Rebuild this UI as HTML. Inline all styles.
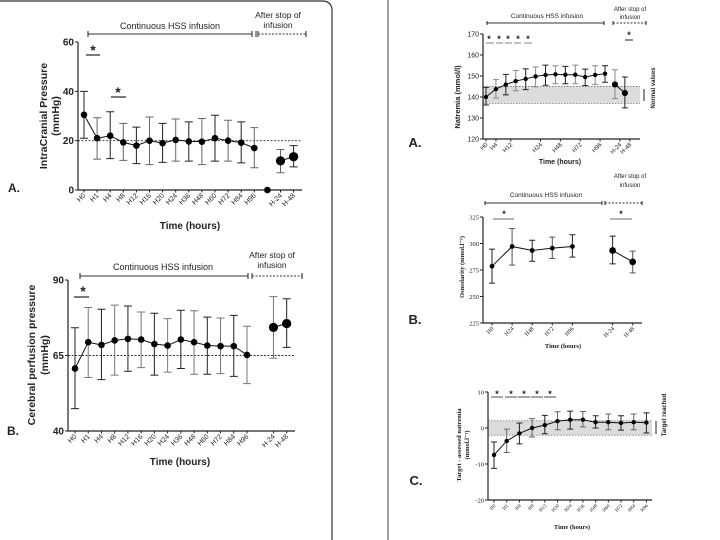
<!DOCTYPE html>
<html><head><meta charset="utf-8"><style>
html,body{margin:0;padding:0;background:#fff;}
svg{display:block;font-family:"Liberation Sans",Arial,sans-serif;}
</style></head><body>
<svg id="fig" width="720" height="540" viewBox="0 0 720 540" xmlns="http://www.w3.org/2000/svg">
<path d="M0 1 H322 Q332 1 332 11 V540" fill="none" stroke="#333" stroke-width="1.2"/>
<line x1="388" y1="0" x2="388" y2="540" stroke="#444" stroke-width="1"/>
</svg>
<script>
// ---------- ICP data ----------
const icpCats = ["H0","H1","H4","H8","H12","H16","H20","H24","H36","H48","H60","H72","H84","H96","","H-24","H-48"];
const icpMean = [30.5,21,22,19.3,18,20,19,20.3,19.7,19.6,21,20,19.2,17,0,11.8,13.5];
const icpLow  = [21,12.5,12.7,12,10.7,10.3,11.2,11.7,11.7,10.3,11.7,11.7,11,9,0,7,9.4];
const icpHigh = [40,29.3,31.7,27,25.5,29.6,27,28.8,27.6,29,30.3,28.3,27.6,25.3,0,16.4,18];
const icpTicks = [0,20,40,60];
// ---------- CPP data ----------
const cppCats = ["H0","H1","H4","H8","H12","H16","H20","H24","H36","H48","H60","H72","H84","H96","","H-24","H-48"];
const cppMean = [60.7,69.4,68.5,70,70.5,70.3,68.8,68.3,70.3,69.4,68.3,68.1,68.1,65.2,null,74.3,75.6];
const cppLow  = [47.4,57.7,57,58.5,59.8,61,58.5,59.5,60.7,58.8,58.8,59,58.1,55.7,null,64.1,67.7];
const cppHigh = [74.2,80.9,80.3,81.7,81.4,79.4,79,77.2,80,79.8,77.7,77.4,78.3,74.7,null,84.5,83.8];
const cppTicks = [40,65,90];
// ---------- Natremia data ----------
const naCats = ["H0","H4","H8","H12","H16","H20","H24","H36","H48","H60","H72","H84","H96","H-24","H-48"];
const naMean = [140,143.8,145.9,147.6,148.6,149.8,150.5,150.8,150.6,150.6,149.5,150.5,151.1,146,141.9];
const naLow  = [136.2,139.5,141,143,143.5,144.8,145.6,146.3,146.3,146.3,145.4,146,147,139.2,134.8];
const naHigh = [144.6,148.3,150.8,152.7,153.4,154.3,155.2,154.9,154.6,155.2,153.3,154.9,154.9,153,149.5];
const naLabels = ["H0","H4","H12","H24","H48","H72","H96","H-24","H-48"];
const naLabelPos = [0,1,2.5,5.5,7.5,9.5,11.5,13.5,14.5];
const naTicks = [120,130,140,150,160,170];
// ---------- Osmolarity data ----------
const osCats = ["H0","H24","H48","H72","H96","","H-24","H-48"];
const osMean = [278.6,297.2,293.4,295.6,297.2,null,293.4,282.7];
const osLow  = [262.6,279.6,283.3,285.8,287.1,null,280.8,272.3];
const osHigh = [294.7,314.2,303.1,306,308.2,null,307,292.8];
const osTicks = [225,250,275,300,325];
// ---------- Target - natremia data ----------
const tgCats = ["H0","H1","H4","H8","H12","H20","H24","H36","H48","H60","H72","H84","H96"];
const tgMean = [-7.5,-3.6,-1.5,0,0.8,1.9,2.3,2.3,1.6,1.6,1.4,1.6,1.5];
const tgLow  = [-11.2,-6.8,-4.4,-2.5,-1.6,-0.5,-0.3,0.3,0,-0.5,-0.6,-0.5,-1.4];
const tgHigh = [-3.9,-0.3,1.4,2.6,3.5,4.5,4.7,4.6,3.4,3.9,3.4,3.9,4.2];
const tgTicks = [-20,-10,0,10];

const NS="http://www.w3.org/2000/svg";
const svg=document.getElementById('fig');
function mk(tag,attrs,parent,text){const e=document.createElementNS(NS,tag);for(const k in attrs)e.setAttribute(k,attrs[k]);if(text!==undefined)e.textContent=text;(parent||svg).appendChild(e);return e;}

function panel(c){
  const g=mk('g',{});
  
  
  const xs=i=>c.x0+i*c.dx;
  const ys=v=>c.pyA+(v-c.vA)*(c.pyB-c.pyA)/(c.vB-c.vA);
  const yTop=ys(c.ticks[c.ticks.length-1]), yBot=ys(c.ticks[0]);
  if(c.band){const r=mk('rect',{x:c.ax,y:ys(c.band[1]),width:c.axEnd-c.ax,height:ys(c.band[0])-ys(c.band[1]),fill:'#dcdcdc'},g);
    
    c.band.forEach(b=>{const l=mk('line',{x1:c.ax,x2:c.axEnd,y1:ys(b),y2:ys(b),stroke:'#555','stroke-width':0.7,'stroke-dasharray':'1.5,1.5'},g);});}
  if(c.ref!==undefined){const l=mk('line',{x1:c.ax,x2:c.axEnd,y1:ys(c.ref),y2:ys(c.ref),stroke:'#333','stroke-width':0.9,'stroke-dasharray':'2,1.5'},g);}
  const ya=mk('line',{x1:c.ax,x2:c.ax,y1:yTop,y2:yBot,stroke:'#222','stroke-width':1.2},g);
  const xa=mk('line',{x1:c.ax,x2:c.axEnd,y1:yBot,y2:yBot,stroke:'#222','stroke-width':1.2},g);
  c.ticks.forEach(t=>{const y=ys(t);mk('line',{x1:c.ax-3,x2:c.ax,y1:y,y2:y,stroke:'#222'},g);
    const tx=mk('text',{x:c.ax-4,y:y+c.fs*0.35,'text-anchor':'end','font-size':c.fs,'font-weight':c.bold?'bold':'normal','font-family':c.serif?'Liberation Serif,serif':'Liberation Sans,sans-serif',fill:'#222'},g,String(t));
    });
  const labs=c.labels||c.cats, lpos=c.labelPos||c.cats.map((_,i)=>i);
  labs.forEach((l,k)=>{if(!l)return;const x=xs(lpos[k]);mk('line',{x1:x,x2:x,y1:yBot,y2:yBot+2.5,stroke:'#222'},g);
    const tx=mk('text',{x:x+2,y:yBot+6,transform:`rotate(-45 ${x+2} ${yBot+6})`,'text-anchor':'end','font-size':c.xfs,'font-family':c.serif?'Liberation Serif,serif':'Liberation Sans,sans-serif',fill:'#222'},g,l);
    });
  c.groups.forEach(gr=>{const pts=gr.filter(i=>c.mean[i]!==null).map(i=>xs(i)+','+ys(c.mean[i])).join(' ');
    const p=mk('polyline',{points:pts,fill:'none',stroke:'#111','stroke-width':1},g);});
  c.mean.forEach((m,i)=>{if(m===null)return;const x=xs(i);
    if(c.high[i]!==c.low[i]){const col=i%2?c.ec2:'#222';
      const e=mk('path',{d:`M${x} ${ys(c.low[i])}V${ys(c.high[i])}M${x-c.cap} ${ys(c.low[i])}H${x+c.cap}M${x-c.cap} ${ys(c.high[i])}H${x+c.cap}`,stroke:col,'stroke-width':1,fill:'none'},g);
      }
    const big=c.bigFrom!==undefined&&i>=c.bigFrom;
    const d=mk('circle',{cx:x,cy:ys(m),r:big?c.r*1.4:c.r,fill:'#000'},g);
    });
}

panel({name:'icp-chart',cats:icpCats,mean:icpMean,low:icpLow,high:icpHigh,ticks:icpTicks,x0:84,dx:13.1,ax:78,axEnd:302,vA:0,pyA:190,vB:60,pyB:42,ref:20,groups:[[0,1,2,3,4,5,6,7,8,9,10,11,12,13],[15,16]],fs:10,bold:true,xfs:7,cap:4,r:3.3,ec2:'#666',bigFrom:15});
panel({name:'cpp-chart',cats:cppCats,mean:cppMean,low:cppLow,high:cppHigh,ticks:cppTicks,x0:75,dx:13.23,ax:68,axEnd:295,vA:40,pyA:431,vB:90,pyB:280,ref:65,groups:[[0,1,2,3,4,5,6,7,8,9,10,11,12,13],[15,16]],fs:10,bold:true,xfs:7,cap:4,r:3.3,ec2:'#777',bigFrom:15});
panel({name:'natremia-chart',cats:naCats,mean:naMean,low:naLow,high:naHigh,labels:naLabels,labelPos:naLabelPos,ticks:naTicks,x0:486,dx:9.92,ax:483,axEnd:640,vA:120,pyA:139,vB:170,pyB:34,band:[137,145],groups:[[0,1,2,3,4,5,6,7,8,9,10,11,12],[13,14]],fs:7,xfs:6,cap:3,r:2.2,ec2:'#888',bigFrom:13});
panel({name:'osmolarity-chart',cats:osCats,mean:osMean,low:osLow,high:osHigh,ticks:osTicks,x0:492,dx:20.1,ax:483,axEnd:642,vA:225,pyA:323,vB:325,pyB:217,groups:[[0,1,2,3,4],[6,7]],fs:6.5,serif:true,xfs:6,cap:3,r:2.4,ec2:'#555',bigFrom:6});
panel({name:'target-natremia-chart',cats:tgCats,mean:tgMean,low:tgLow,high:tgHigh,ticks:tgTicks,x0:494,dx:12.7,ax:488,axEnd:652,vA:0,pyA:428,vB:10,pyB:392,band:[-2,2],groups:[[0,1,2,3,4,5,6,7,8,9,10,11,12]],fs:6.5,serif:true,xfs:5,cap:3,r:2.2,ec2:'#666'});

function txt(name,x,y,s,t,extra){const e=mk('text',Object.assign({x:x,y:y,'font-size':s,'text-anchor':'middle',fill:'#222'},extra||{}),svg,t);return e;}
function seg(name,x1,y1,x2,y2,col,w,dash){const e=mk('line',{x1,y1,x2,y2,stroke:col||'#222','stroke-width':w||1,'stroke-dasharray':dash||'none'});}
function bracket(x1,x2,y,d1,d2,h){seg('infusion-bracket',x1,y,x2,y,'#333',1);seg('bracket-cap',x1,y-h,x1,y+h);seg('bracket-cap',x2,y-h,x2,y+h);
  seg('after-stop-bracket',d1,y,d2,y,'#333',1,'2,1.5');seg('bracket-cap',d1,y-h,d1,y+h);seg('bracket-cap',d2,y-h,d2,y+h);}
// ICP
txt('infusion-label',170,29,9,'Continuous HSS infusion');bracket(88,252,34,258,306,3);seg('bracket-cap',256,31,256,37);
txt('after-stop-label',278,18,8.5,'After stop of');txt('after-stop-label',278,28,8.5,'infusion');
txt('significance-star',93,55,14,'*',{'font-weight':'bold'});seg('significance-line',86,55,100,55,'#222',1.2);
txt('significance-star',118,97,14,'*',{'font-weight':'bold'});seg('significance-line',111,97,126,97,'#222',1.2);
txt('y-axis-title',0,0,10.5,'IntraCranial Pressure',{transform:'translate(47 116) rotate(-90)','font-weight':'bold'});
txt('y-axis-title',0,0,10.5,'(mmHg)',{transform:'translate(59 116) rotate(-90)','font-weight':'bold'});
txt('panel-label-a',14,192,12,'A.',{'font-weight':'bold'});
txt('x-axis-title',190,229,10,'Time (hours)',{'font-weight':'bold'});
// CPP
txt('infusion-label',163,270,9,'Continuous HSS infusion');bracket(80,248,276,252,302,3);
txt('after-stop-label',272,258,8.5,'After stop of');txt('after-stop-label',272,268,8.5,'infusion');
txt('significance-star',83,296,14,'*',{'font-weight':'bold'});seg('significance-line',74,297,89,297,'#222',1.2);
txt('y-axis-title',0,0,10.5,'Cerebral perfusion pressure',{transform:'translate(35 355) rotate(-90)','font-weight':'bold'});
txt('y-axis-title',0,0,10.5,'(mmHg)',{transform:'translate(48 355) rotate(-90)','font-weight':'bold'});
txt('panel-label-b',13,435,12,'B.',{'font-weight':'bold'});
txt('x-axis-title',180,465,10,'Time (hours)',{'font-weight':'bold'});
// Natremia
txt('infusion-label',547,18,6.5,'Continuous HSS infusion');bracket(487,604,23,613,646,2);
txt('after-stop-label',630,11,6,'After stop of');txt('after-stop-label',630,19,6,'infusion');
[489,499,508,518,528].forEach(x=>txt('significance-star',x,42,9,'*',{'font-weight':'bold'}));
[[486,494],[496,503],[505,512],[514,521],[524,532]].forEach(s=>seg('significance-line',s[0],43,s[1],43,'#888',1));
txt('significance-star',629,38,9,'*',{'font-weight':'bold'});seg('significance-line',625,40,633,40,'#222',1);
txt('y-axis-title',0,0,7.5,'Natremia (mmol/l)',{transform:'translate(460 97) rotate(-90)','font-weight':'bold'});
txt('normal-values-label',0,0,6,'Normal values',{transform:'translate(655 88) rotate(-90)','font-weight':'bold'});
seg('normal-range-arrow',644,89,644,101,'#222',1);
txt('panel-label-a2',415,147,13,'A.',{'font-weight':'bold'});
txt('x-axis-title',560,164,7,'Time (hours)',{'font-weight':'bold'});
// Osmolarity
txt('infusion-label',546,197,6.5,'Continuous HSS infusion');bracket(485,602,203,605,642,2);
txt('after-stop-label',630,178,6,'After stop of');txt('after-stop-label',630,187,6,'infusion');
txt('significance-star',504,217,9,'*',{'font-weight':'bold'});seg('significance-line',493,219,514,219,'#888',1.2);
txt('significance-star',621,217,9,'*',{'font-weight':'bold'});seg('significance-line',610,219,632,219,'#888',1.2);
txt('y-axis-title',0,0,6.5,'Osmolarity (mmol.l⁻¹)',{transform:'translate(464 267) rotate(-90)','font-weight':'bold','font-family':'Liberation Serif,serif'});
txt('panel-label-b2',415,324,13,'B.',{'font-weight':'bold'});
txt('x-axis-title',563,348,6.5,'Time (hours)',{'font-weight':'bold','font-family':'Liberation Serif,serif'});
// Target
[497,511,524,537,550].forEach((x,k)=>{txt('significance-star',x,397,9,'*',{'font-weight':'bold'});seg('significance-line',x-6,397,x+6,397,'#222',0.8);});
txt('y-axis-title',0,0,6.5,'Target - assessed natremia',{transform:'translate(461 445) rotate(-90)','font-weight':'bold','font-family':'Liberation Serif,serif'});
txt('y-axis-title',0,0,6.5,'(mmol.l⁻¹)',{transform:'translate(469 445) rotate(-90)','font-weight':'bold','font-family':'Liberation Serif,serif'});
txt('target-reached-label',0,0,6,'Target reached',{transform:'translate(666 415) rotate(-90)','font-weight':'bold'});
seg('target-range-arrow',656,421,656,434,'#222',1);
txt('panel-label-c',416,485,13,'C.',{'font-weight':'bold'});
txt('x-axis-title',572,529,6.5,'Time (hours)',{'font-weight':'bold','font-family':'Liberation Serif,serif'});
</script>
</body></html>
